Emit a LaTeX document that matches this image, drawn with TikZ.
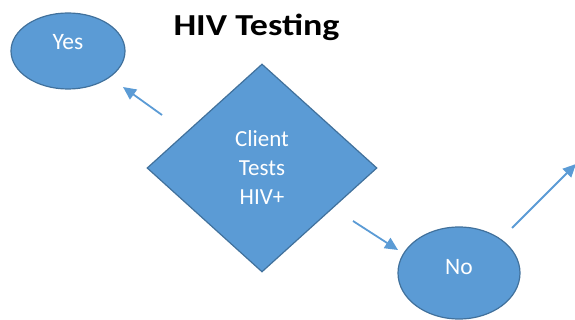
\documentclass[tikz,border=0pt]{standalone}
\usepackage{fontspec}
\setmainfont{Carlito}
\usetikzlibrary{shapes.geometric,arrows.meta}
\definecolor{officeblue}{HTML}{5B9BD5}
\definecolor{officeedge}{HTML}{41719C}

\begin{document}
\begin{tikzpicture}[x=1pt,y=-1pt]
\tikzstyle{main}=[ellipse, fill=officeblue, draw=officeedge, line width=1.2pt, text=white, inner sep=0pt, text height=15pt, font=\fontsize{23.5}{28}\selectfont]
\tikzstyle{decide}=[diamond, fill=officeblue, draw=officeedge, line width=1.2pt, text=white, inner sep=0pt, align=center, font=\fontsize{23}{29}\selectfont]
\tikzstyle{connect}=[-{Triangle[length=13pt,width=12pt]}, draw=officeblue, line width=1.8pt]
  \useasboundingbox (0,0) rectangle (575,320);
  \node[anchor=base, inner sep=0pt, font=\fontsize{30.5}{36}\selectfont\bfseries] (title) at (256.5,35.5) {\scalebox{1.18}[1]{HIV Testing}};
  \node[main, text depth=18.5pt, minimum width=114pt, minimum height=76pt] (Yes) at (68,51) {Yes};
  \node[decide, minimum width=230pt, minimum height=208pt] (Test) at (262,168) {Client\\Tests\\HIV+};
  \node[main, text depth=11.5pt, minimum width=122pt, minimum height=92pt] (No) at (459,273) {No};
  % arrow ends, free of the nodes
  \coordinate (yesfrom) at (162,115);
  \coordinate (yesto) at (123,87);
  \coordinate (nofrom) at (353,221);
  \coordinate (noto) at (398,250);
  \coordinate (nextfrom) at (512,228);
  \coordinate (nextto) at (576,164);
  \path
        (yesfrom) edge [connect] (yesto)
        (nofrom) edge [connect] (noto)
        (nextfrom) edge [connect] (nextto);
\end{tikzpicture}
\end{document}
